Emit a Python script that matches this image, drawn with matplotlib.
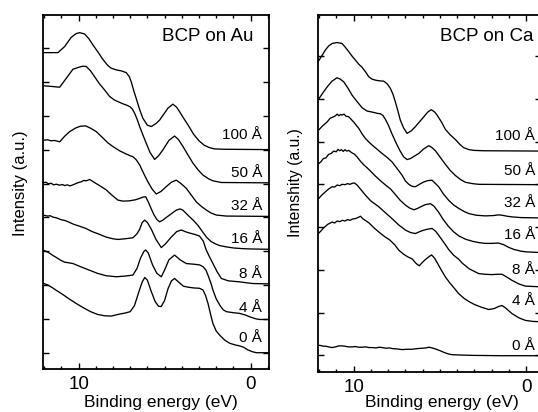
import matplotlib.pyplot as plt
import matplotlib.transforms as mtransforms
from matplotlib.ticker import MultipleLocator, FixedLocator, NullFormatter

plt.rcParams['font.family'] = ['Liberation Sans', 'DejaVu Sans']

thickness_labels = ['100 Å', '50 Å', '32 Å', '16 Å', '8 Å', '4 Å', '0 Å']

# BCP on Au: (binding energy eV, intensity a.u., stacked)
au_100 = [(11.98, 8.86), (11.5, 8.86), (11.2, 8.86), (10.81, 9.04), (10.43, 9.31), (10.15, 9.42),
          (9.94, 9.45), (9.65, 9.41), (9.4, 9.27), (9.17, 9.09), (8.85, 8.86), (8.59, 8.66),
          (8.3, 8.48), (8.1, 8.40), (7.8, 8.35), (7.5, 8.32), (7.23, 8.27), (7.05, 8.15),
          (6.94, 8.00), (6.8, 7.75), (6.65, 7.51), (6.45, 7.18), (6.26, 6.92), (6.0, 6.72),
          (5.77, 6.68), (5.5, 6.77), (5.29, 6.87), (5.0, 7.08), (4.81, 7.22), (4.52, 7.34),
          (4.3, 7.25), (4.13, 7.12), (3.9, 6.93), (3.64, 6.73), (3.31, 6.45), (3.0, 6.26),
          (2.7, 6.13), (2.4, 6.06), (2.09, 6.02), (1.5, 6.01), (-1.07, 6.0)]
au_50 = [(11.98, 7.88), (11.5, 7.86), (11.1, 7.84), (10.72, 8.10), (10.33, 8.37), (9.98, 8.43),
         (9.75, 8.46), (9.55, 8.45), (9.3, 8.32), (9.07, 8.15), (8.8, 7.95), (8.49, 7.76),
         (8.2, 7.57), (7.91, 7.46), (7.6, 7.39), (7.42, 7.35), (7.2, 7.31), (7.03, 7.27),
         (6.88, 7.20), (6.74, 7.07), (6.6, 6.90), (6.45, 6.68), (6.25, 6.42), (6.07, 6.19),
         (5.85, 5.92), (5.58, 5.71), (5.35, 5.82), (5.1, 5.99), (4.75, 6.27), (4.42, 6.40),
         (4.2, 6.30), (3.93, 6.09), (3.65, 5.85), (3.35, 5.60), (3.05, 5.40), (2.77, 5.25),
         (2.45, 5.14), (2.19, 5.08), (1.7, 5.03), (-1.07, 5.02)]
au_32 = [(11.98, 6.28), (11.8, 6.29), (11.6, 6.26), (11.4, 6.27), (11.1, 6.23), (10.8, 6.40),
         (10.52, 6.53), (10.2, 6.63), (9.9, 6.69), (9.59, 6.70), (9.3, 6.63), (8.97, 6.53),
         (8.6, 6.35), (8.3, 6.20), (8.0, 6.09), (7.6, 5.96), (7.23, 5.87), (7.0, 5.82),
         (6.84, 5.79), (6.65, 5.70), (6.45, 5.55), (6.2, 5.28), (5.97, 5.05), (5.72, 4.83),
         (5.48, 4.69), (5.2, 4.77), (4.9, 4.91), (4.6, 5.04), (4.32, 5.10), (4.05, 5.00),
         (3.74, 4.86), (3.45, 4.66), (3.16, 4.46), (2.85, 4.32), (2.58, 4.22), (2.3, 4.13),
         (1.99, 4.07), (1.41, 4.04), (-1.07, 4.03)]
au_16 = [(12.07, 5.02), (11.9, 5.04), (11.75, 4.99), (11.6, 5.01), (11.45, 4.96), (11.3, 4.98),
         (11.1, 4.95), (10.95, 4.97), (10.8, 4.94), (10.65, 4.96), (10.5, 4.93), (10.33, 4.96),
         (10.15, 5.00), (10.0, 5.03), (9.85, 5.05), (9.7, 5.09), (9.55, 5.08), (9.36, 5.12),
         (9.2, 5.07), (9.05, 5.02), (8.85, 4.96), (8.6, 4.88), (8.39, 4.81), (8.2, 4.72),
         (8.0, 4.63), (7.71, 4.51), (7.4, 4.48), (7.03, 4.49), (6.7, 4.52), (6.45, 4.56),
         (6.25, 4.60), (6.1, 4.61), (5.95, 4.46), (5.8, 4.28), (5.62, 4.08), (5.45, 3.94),
         (5.29, 3.87), (5.1, 3.92), (4.9, 4.00), (4.71, 4.07), (4.5, 4.15), (4.3, 4.22),
         (4.1, 4.25), (3.95, 4.22), (3.75, 4.12), (3.55, 4.02), (3.3, 3.90), (3.05, 3.76),
         (2.8, 3.58), (2.55, 3.41), (2.3, 3.29), (2.05, 3.22), (1.8, 3.17), (1.4, 3.13),
         (1.0, 3.10), (0.5, 3.08), (0.0, 3.07), (-1.07, 3.06)]
au_8 = [(11.98, 4.06), (11.8, 4.04), (11.65, 4.05), (11.5, 4.01), (11.3, 3.99), (11.0, 3.93),
        (10.8, 3.91), (10.6, 3.87), (10.3, 3.80), (9.94, 3.74), (9.6, 3.68), (9.2, 3.58),
        (8.78, 3.50), (8.4, 3.42), (8.0, 3.37), (7.71, 3.35), (7.3, 3.37), (6.84, 3.40),
        (6.6, 3.52), (6.45, 3.65), (6.3, 3.85), (6.16, 3.92), (6.0, 3.85), (5.77, 3.65),
        (5.5, 3.35), (5.19, 3.11), (4.95, 3.22), (4.61, 3.42), (4.3, 3.58), (4.03, 3.63),
        (3.8, 3.58), (3.55, 3.54), (3.25, 3.50), (2.97, 3.45), (2.75, 3.30), (2.58, 3.04),
        (2.4, 2.85), (2.19, 2.64), (1.95, 2.40), (1.7, 2.20), (1.3, 2.13), (0.64, 2.10),
        (0.2, 2.07), (-0.14, 2.05), (-1.07, 2.04)]
au_4 = [(12.07, 3.04), (11.85, 2.99), (11.7, 2.95), (11.5, 2.88), (11.3, 2.82), (11.05, 2.74),
        (10.81, 2.68), (10.55, 2.66), (10.33, 2.64), (9.9, 2.55), (9.4, 2.45), (8.9, 2.35),
        (8.4, 2.28), (7.81, 2.25), (7.3, 2.27), (6.84, 2.30), (6.6, 2.50), (6.4, 2.80),
        (6.2, 3.00), (6.1, 3.04), (5.95, 2.95), (5.7, 2.60), (5.45, 2.35), (5.19, 2.25),
        (5.0, 2.45), (4.75, 2.75), (4.42, 2.89), (4.1, 2.75), (3.74, 2.64), (3.3, 2.62),
        (2.97, 2.60), (2.77, 2.55), (2.6, 2.45), (2.48, 2.30), (2.3, 2.05), (2.19, 1.86),
        (2.0, 1.60), (1.8, 1.42), (1.6, 1.28), (1.41, 1.22), (1.0, 1.19), (0.64, 1.17),
        (0.3, 1.12), (0.06, 1.07), (-0.3, 1.01), (-0.53, 0.99), (-1.07, 0.99)]
au_0 = [(12.07, 2.06), (11.85, 2.02), (11.7, 1.98), (11.5, 1.92), (11.3, 1.85), (10.9, 1.72),
        (10.5, 1.58), (10.1, 1.45), (9.7, 1.33), (9.3, 1.22), (8.9, 1.14), (8.5, 1.10),
        (8.1, 1.09), (7.7, 1.14), (7.3, 1.18), (7.0, 1.22), (6.75, 1.40), (6.5, 1.80),
        (6.3, 2.10), (6.15, 2.23), (6.0, 2.15), (5.8, 1.85), (5.55, 1.52), (5.35, 1.38),
        (5.2, 1.37), (5.0, 1.55), (4.8, 1.90), (4.6, 2.13), (4.42, 2.20), (4.2, 2.10),
        (3.9, 1.97), (3.6, 1.94), (3.3, 1.92), (2.97, 1.91), (2.77, 1.86), (2.62, 1.70),
        (2.48, 1.47), (2.33, 1.15), (2.19, 0.87), (2.0, 0.65), (1.8, 0.53), (1.5, 0.38),
        (1.22, 0.29), (0.9, 0.24), (0.64, 0.21), (0.4, 0.17), (0.15, 0.09), (-0.1, 0.04),
        (-0.33, 0.01), (-1.07, 0.01)]

# BCP on Ca
ca_100 = [(12.06, 8.65), (11.85, 8.82), (11.63, 9.00), (11.44, 9.12), (11.24, 9.19), (10.96, 9.22),
          (10.67, 9.19), (10.48, 9.08), (10.28, 8.95), (10.09, 8.82), (9.89, 8.70), (9.7, 8.58),
          (9.51, 8.49), (9.3, 8.35), (9.12, 8.21), (8.93, 8.14), (8.73, 8.11), (8.5, 8.09),
          (8.25, 8.08), (8.05, 8.00), (7.87, 7.87), (7.72, 7.70), (7.58, 7.47), (7.43, 7.20),
          (7.29, 6.93), (7.1, 6.70), (6.9, 6.54), (6.65, 6.62), (6.42, 6.74), (6.15, 6.90),
          (5.93, 7.03), (5.7, 7.17), (5.5, 7.24), (5.3, 7.17), (5.16, 7.08), (4.9, 6.87),
          (4.68, 6.66), (4.4, 6.50), (4.1, 6.36), (3.85, 6.22), (3.62, 6.12), (3.3, 6.06),
          (3.0, 6.04), (2.5, 6.03), (-0.86, 6.02)]
ca_50 = [(12.06, 7.52), (11.8, 7.72), (11.53, 7.91), (11.25, 8.08), (10.96, 8.18), (10.77, 8.14),
         (10.57, 8.06), (10.33, 7.88), (10.09, 7.67), (9.8, 7.48), (9.51, 7.30), (9.22, 7.20),
         (8.93, 7.17), (8.6, 7.13), (8.45, 7.12), (8.3, 7.07), (8.15, 6.95), (7.98, 6.78),
         (7.77, 6.52), (7.6, 6.33), (7.48, 6.20), (7.3, 6.02), (7.1, 5.85), (6.9, 5.77),
         (6.7, 5.80), (6.45, 5.88), (6.22, 5.95), (5.95, 6.08), (5.64, 6.18), (5.45, 6.12),
         (5.26, 6.03), (5.0, 5.85), (4.68, 5.63), (4.4, 5.45), (4.1, 5.30), (3.8, 5.18),
         (3.52, 5.10), (3.1, 5.06), (2.75, 5.04), (-0.86, 5.03)]
ca_32 = [(12.02, 6.64), (11.8, 6.76), (11.53, 6.88), (11.35, 6.99), (11.2, 7.02), (11.05, 7.06),
         (10.95, 7.11), (10.85, 7.06), (10.75, 7.10), (10.67, 7.08), (10.55, 7.11), (10.45, 7.05),
         (10.28, 7.03), (10.0, 6.88), (9.7, 6.69), (9.5, 6.52), (9.31, 6.39), (9.1, 6.28),
         (8.93, 6.20), (8.65, 6.08), (8.35, 5.95), (8.05, 5.83), (7.77, 5.70), (7.5, 5.52),
         (7.19, 5.31), (7.0, 5.14), (6.8, 5.04), (6.6, 4.98), (6.42, 4.97), (6.15, 5.05),
         (5.93, 5.11), (5.7, 5.15), (5.45, 5.16), (5.25, 5.06), (5.07, 4.97), (4.8, 4.76),
         (4.49, 4.57), (4.2, 4.43), (3.9, 4.33), (3.6, 4.24), (3.33, 4.18), (2.9, 4.13),
         (2.36, 4.11), (1.9, 4.12), (1.6, 4.14), (1.4, 4.13), (1.1, 4.10), (0.82, 4.08),
         (0.3, 4.06), (-0.86, 4.05)]
ca_16 = [(12.02, 5.65), (11.9, 5.70), (11.75, 5.80), (11.6, 5.82), (11.45, 5.92), (11.3, 5.95),
         (11.15, 6.02), (11.0, 6.00), (10.9, 6.07), (10.8, 6.03), (10.7, 6.06), (10.6, 6.01),
         (10.5, 6.06), (10.4, 6.02), (10.28, 6.04), (10.1, 5.97), (9.95, 5.93), (9.8, 5.85),
         (9.6, 5.72), (9.4, 5.61), (9.22, 5.53), (9.0, 5.42), (8.73, 5.28), (8.45, 5.15),
         (8.15, 5.02), (7.85, 4.90), (7.58, 4.74), (7.3, 4.57), (7.0, 4.43), (6.75, 4.34),
         (6.5, 4.29), (6.3, 4.33), (6.1, 4.38), (5.85, 4.44), (5.55, 4.47), (5.35, 4.40),
         (5.1, 4.24), (4.8, 4.00), (4.5, 3.80), (4.2, 3.64), (3.9, 3.52), (3.5, 3.42),
         (3.1, 3.36), (2.7, 3.32), (2.36, 3.30), (2.0, 3.30), (1.6, 3.31), (1.3, 3.26),
         (1.0, 3.18), (0.7, 3.12), (0.3, 3.07), (0.0, 3.05), (-0.86, 3.03)]
ca_8 = [(12.02, 4.62), (11.85, 4.72), (11.63, 4.82), (11.45, 4.90), (11.24, 4.97), (11.1, 4.96),
        (10.95, 5.02), (10.8, 5.00), (10.67, 5.04), (10.5, 5.03), (10.35, 5.06), (10.2, 5.04),
        (10.09, 5.07), (9.95, 5.08), (9.8, 5.02), (9.6, 4.90), (9.31, 4.72), (9.0, 4.55),
        (8.54, 4.38), (8.15, 4.20), (7.77, 4.03), (7.4, 3.85), (6.99, 3.69), (6.7, 3.62),
        (6.42, 3.59), (6.15, 3.65), (5.93, 3.69), (5.7, 3.72), (5.45, 3.74), (5.25, 3.66),
        (5.07, 3.54), (4.8, 3.35), (4.49, 3.12), (4.2, 2.95), (3.9, 2.83), (3.71, 2.72),
        (3.3, 2.55), (2.75, 2.41), (2.4, 2.39), (1.98, 2.38), (1.65, 2.39), (1.4, 2.39),
        (1.1, 2.30), (0.82, 2.21), (0.4, 2.10), (0.04, 2.04), (-0.86, 2.02)]
ca_4 = [(12.06, 3.58), (11.9, 3.66), (11.75, 3.75), (11.63, 3.80), (11.5, 3.86), (11.35, 3.90),
        (11.24, 3.93), (11.1, 3.90), (10.95, 3.96), (10.8, 3.94), (10.65, 3.98), (10.5, 3.96),
        (10.35, 4.00), (10.2, 3.98), (10.05, 4.02), (9.9, 4.03), (9.75, 4.06), (9.6, 4.10),
        (9.45, 4.02), (9.3, 3.97), (9.1, 3.90), (8.8, 3.75), (8.5, 3.62), (8.2, 3.50),
        (7.9, 3.40), (7.6, 3.25), (7.38, 3.10), (7.1, 2.98), (6.85, 2.90), (6.6, 2.84),
        (6.4, 2.72), (6.25, 2.66), (6.19, 2.64), (6.05, 2.72), (5.85, 2.82), (5.65, 2.90),
        (5.48, 2.96), (5.3, 2.86), (5.1, 2.68), (4.9, 2.50), (4.68, 2.31), (4.4, 2.12),
        (4.2, 2.00), (3.91, 1.82), (3.6, 1.68), (3.3, 1.58), (3.0, 1.50), (2.6, 1.42),
        (2.17, 1.35), (1.85, 1.38), (1.6, 1.44), (1.4, 1.47), (1.2, 1.40), (0.82, 1.23),
        (0.4, 1.10), (0.04, 1.03), (-0.4, 1.00), (-0.86, 0.99)]
ca_0 = [(12.06, 0.30), (11.9, 0.29), (11.75, 0.27), (11.63, 0.27), (11.45, 0.25), (11.24, 0.23),
        (11.05, 0.25), (10.85, 0.28), (10.67, 0.28), (10.5, 0.27), (10.3, 0.25), (10.09, 0.25),
        (9.9, 0.26), (9.7, 0.24), (9.51, 0.24), (9.3, 0.25), (9.1, 0.23), (8.93, 0.23),
        (8.7, 0.22), (8.5, 0.24), (8.35, 0.23), (8.1, 0.21), (7.9, 0.22), (7.77, 0.20),
        (7.5, 0.19), (7.19, 0.17), (6.9, 0.18), (6.61, 0.18), (6.3, 0.20), (6.03, 0.21),
        (5.8, 0.22), (5.64, 0.24), (5.45, 0.22), (5.26, 0.19), (5.0, 0.14), (4.77, 0.09),
        (4.5, 0.04), (4.29, 0.02), (3.8, 0.01), (3.13, 0.00), (1.5, -0.01), (-0.86, -0.01)]

au_curves = [au_100, au_50, au_32, au_16, au_8, au_4, au_0]
ca_curves = [ca_100, ca_50, ca_32, ca_16, ca_8, ca_4, ca_0]

au_label_y = [6.30, 5.20, 4.22, 3.24, 2.20, 1.22, 0.33]
ca_label_y = [6.34, 5.31, 4.37, 3.44, 2.41, 1.47, 0.15]

au_yticks = [0, 1, 2, 3, 4, 5, 6, 7, 8, 9]
ca_yticks = [k * 1.26 for k in range(8)]


def draw_panel(ax, curves, label_y, label_x, title, title_x):
    for c in curves:
        e, i = zip(*c)
        ax.plot(e, i, color='black', lw=0.95)
    trans = mtransforms.blended_transform_factory(ax.transAxes, ax.transData)
    for lab, y in zip(thickness_labels, label_y):
        ax.text(label_x, y, lab, transform=trans, ha='right', va='baseline', fontsize=11)
    ax.text(title_x, 0.927, title, transform=ax.transAxes, ha='right', va='baseline', fontsize=13.5)
    ax.xaxis.set_major_locator(MultipleLocator(10))
    ax.xaxis.set_minor_locator(MultipleLocator(1))
    ax.yaxis.set_major_formatter(NullFormatter())
    ax.tick_params(which='both', direction='in', top=True, right=True, width=1)
    ax.tick_params(which='major', length=4.6, pad=5, labelsize=13.5)
    ax.tick_params(which='minor', length=2.2)
    for s in ax.spines.values():
        s.set_linewidth(1.3)
    ax.set_xlabel('Binding energy (eV)', fontsize=12.5)


fig = plt.figure(figsize=(5.38, 4.12), dpi=100)
ax1 = fig.add_axes([0.0799, 0.1044, 0.4201, 0.8592])
ax2 = fig.add_axes([0.5911, 0.0971, 0.4145, 0.8665])

draw_panel(ax1, au_curves, au_label_y, 0.969, 'BCP on Au', 0.929)
ax1.set_xlim(12.07, -1.07)
ax1.set_ylim(-0.47, 9.97)
ax1.yaxis.set_major_locator(FixedLocator(au_yticks))
ax1.xaxis.set_label_coords(0.522, -0.073)

draw_panel(ax2, ca_curves, ca_label_y, 0.973, 'BCP on Ca', 0.967)
ax2.set_xlim(12.06, -0.86)
ax2.set_ylim(-0.49, 10.03)
ax2.yaxis.set_major_locator(FixedLocator(ca_yticks))
ax2.xaxis.set_label_coords(0.556, -0.064)

fig.text(0.0372, 0.556, 'Intensity (a.u.)', rotation=90, ha='center', va='center', fontsize=12)
fig.text(0.549, 0.556, 'Intenshity (a.u.)', rotation=90, ha='center', va='center', fontsize=11.3)

fig.savefig('out.png', dpi=100)
